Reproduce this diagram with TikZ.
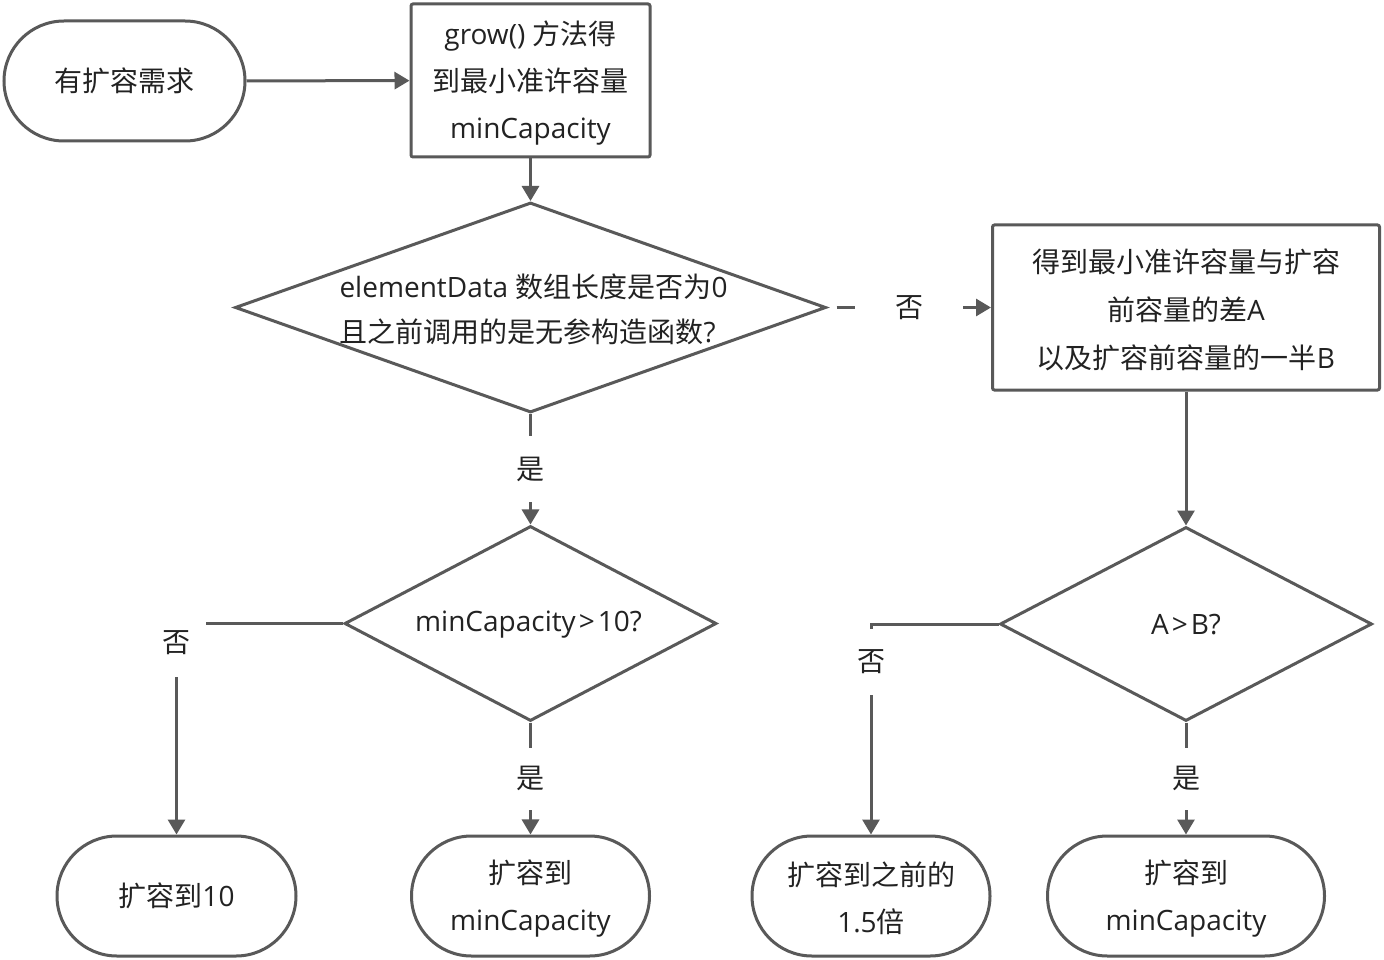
\documentclass[tikz,border=0pt]{standalone}
\usepackage{fontspec}
\setmainfont{Open Sans}
\newfontfamily\cjk{Noto Sans CJK SC}
\newcommand\zh[1]{{\cjk #1}}
\newcommand\gtsym{\kern3pt>\kern3pt}
\usetikzlibrary{shapes.geometric,shapes.misc,arrows.meta}
\definecolor{ln}{RGB}{89,89,89}
\definecolor{tx}{RGB}{34,34,34}
\begin{document}
\begin{tikzpicture}[x=1pt,y=-1pt,
 every node/.style={font=\fontsize{28}{47}\selectfont, text=tx},
 line/.style={draw=ln, line width=3pt},
 conn/.style={line, -{Triangle[length=15pt,width=17pt]}},
 term/.style={line, rounded rectangle, minimum width=240pt, minimum height=120pt, align=center, inner sep=0pt},
 proc/.style={line, rectangle, rounded corners=2pt, align=center, inner sep=0pt},
 dec/.style={line, diamond, inner sep=0pt},
 lbl/.style={fill=white, inner sep=0pt}
]
\useasboundingbox (0,0) rectangle (1384,960);
\fill[white] (0,0) rectangle (1384,960);

% nodes
\node[term, minimum width=241pt] (start) at (124.5,81) {\zh{有扩容需求}};
\node[proc, minimum width=239pt, minimum height=153pt] (grow) at (530.5,80.5) {};
\node[align=center] (tg) at (530.5,83) {grow() \zh{方法得}\\\zh{到最小准许容量}\\minCapacity};
\node[dec, minimum width=591pt, minimum height=210pt] (d1) at (530.5,307.5) {};
\node[align=left, anchor=west, font=\fontsize{28}{45}\selectfont] (t1) at (336,309)
  {elementData \zh{数组长度是否为}0\\\zh{且之前调用的是无参构造函数}?};
\node[proc, minimum width=387pt, minimum height=165pt] (diff) at (1186,307.5) {};
\node[align=center, font=\fontsize{28}{48}\selectfont] (td) at (1186,310)
  {\zh{得到最小准许容量与扩容}\\\zh{前容量的差}A\\\zh{以及扩容前容量的一半}B};
\node[dec, minimum width=372pt, minimum height=195pt] (d2) at (530.5,623.5) {};
\node (t2) at (528.5,625) {minCapacity\gtsym 10?};
\node[dec, minimum width=372pt, minimum height=194pt] (d3) at (1186,624) {};
\node (t3) at (1186,625) {A\gtsym B?};
\node[term, minimum width=239pt] (r10) at (176.5,896) {\zh{扩容到}10};
\node[term, minimum width=238pt] (rmin) at (530.5,896) {};
\node[align=center] (trmin) at (530.5,898.5) {\zh{扩容到}\\minCapacity};
\node[term, minimum width=238pt] (r15) at (871,896) {};
\node[align=center] (tr15) at (871,898.5) {\zh{扩容到之前的}\\1.5\zh{倍}};
\node[term, minimum width=277pt] (rmin2) at (1186,896) {};
\node[align=center] (trmin2) at (1186,898.5) {\zh{扩容到}\\minCapacity};

% connectors
\draw[conn] (start) -- (grow);
\draw[conn] (grow) -- (d1);
\draw[conn] (d1) -- node[lbl, minimum width=40pt, minimum height=66pt] {\zh{是}} (d2);
\draw[conn, shorten <=9pt] (d1) -- node[lbl, minimum width=108pt, minimum height=30pt] {\zh{否}} (diff);
\draw[conn] (diff) -- (d3);
\draw[conn] (d2.west) -| node[lbl, pos=0.5, yshift=-19pt, minimum width=58pt, minimum height=68pt] {\zh{否}} (r10.north);
\draw[conn] (d2) -- node[lbl, minimum width=40pt, minimum height=62pt] {\zh{是}} (rmin);
\draw[conn] (d3.west) -| node[lbl, pos=0.5, yshift=-38pt, minimum width=40pt, minimum height=66pt] {\zh{否}} (r15.north);
\draw[conn] (d3) -- node[lbl, minimum width=40pt, minimum height=62pt] {\zh{是}} (rmin2);
\end{tikzpicture}
\end{document}
